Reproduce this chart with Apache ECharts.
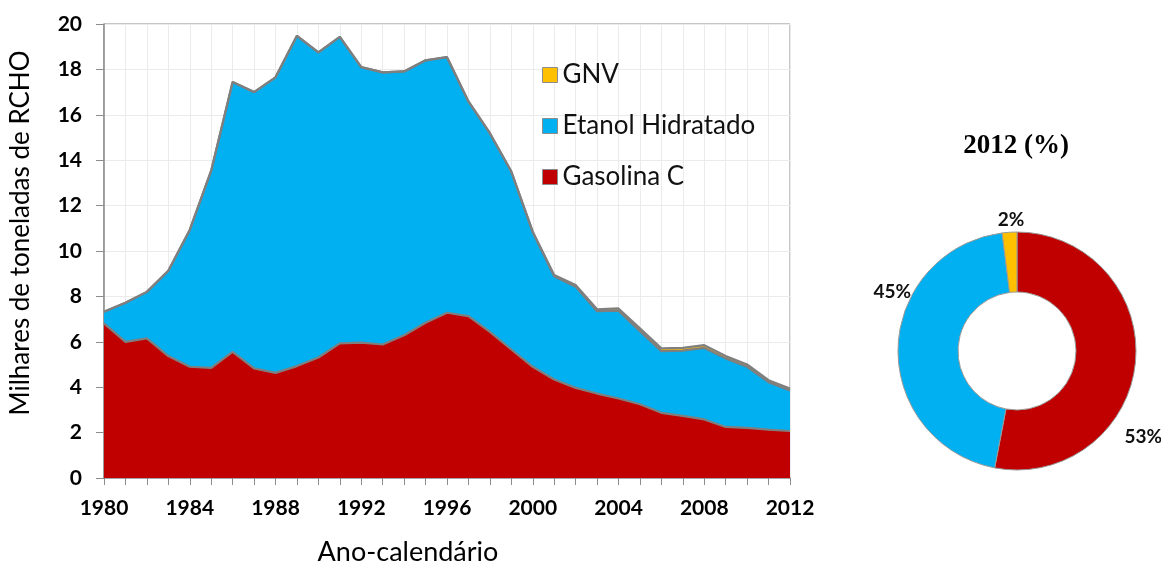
<!DOCTYPE html>
<html>
<head>
<meta charset="utf-8">
<script src="https://cdn.jsdelivr.net/npm/echarts@6/dist/echarts.min.js"></script>
<style>
  html, body { margin: 0; padding: 0; background: #fff; }
  #chart { width: 1161px; height: 564px; }
</style>
</head>
<body>
<div id="chart"></div>
<script>
// Years on the horizontal axis
const years = [];
for (let y = 1980; y <= 2012; y++) years.push(String(y));

// Emissions by fuel, thousands of tonnes of RCHO
const gasolinaC = [6.81, 6.00, 6.15, 5.37, 4.90, 4.85, 5.56, 4.83, 4.63, 4.93, 5.31,
                   5.93, 5.96, 5.88, 6.29, 6.84, 7.28, 7.13, 6.44, 5.66, 4.90,
                   4.34, 3.97, 3.72, 3.50, 3.25, 2.87, 2.74, 2.58, 2.25, 2.21, 2.13, 2.07];
const etanolHidratado = [0.51, 1.72, 2.05, 3.76, 6.03, 8.69, 11.88, 12.17, 13.02, 14.55, 13.44,
                         13.50, 12.14, 11.99, 11.62, 11.56, 11.26, 9.46, 8.75, 7.84, 5.93,
                         4.55, 4.46, 3.63, 3.87, 3.22, 2.72, 2.87, 3.15, 3.02, 2.69, 2.09, 1.79];
const gnv = [0, 0, 0, 0, 0, 0, 0, 0, 0, 0, 0,
             0, 0, 0, 0, 0, 0, 0, 0, 0, 0.02,
             0.05, 0.07, 0.08, 0.10, 0.12, 0.12, 0.12, 0.12, 0.10, 0.10, 0.09, 0.08];

// 2012 share by fuel (%)
const shareNames = ['Gasolina C', 'Etanol Hidratado', 'GNV'];
const share2012 = [53, 45, 2];

const colors = { 'Gasolina C': '#C00000', 'Etanol Hidratado': '#00B0F0', 'GNV': '#FFC000' };
const edge = '#7f7f7f';
const uiFont = 'Lato, "Open Sans", sans-serif';

// nudges for the donut percentage labels
const pieLabelShift = [[-20, 74], [22, -55], [20, -8]];

const chart = echarts.init(document.getElementById('chart'), null, { renderer: 'canvas' });

function areaSeries(name, data) {
  return {
    name: name,
    type: 'line',
    stack: 'total',
    data: data,
    symbol: 'none',
    smooth: false,
    lineStyle: { color: edge, width: 2.2 },
    itemStyle: { color: colors[name], borderColor: edge, borderWidth: 1 },
    areaStyle: { color: colors[name], opacity: 1 },
    emphasis: { disabled: true }
  };
}

chart.setOption({
  animation: false,
  backgroundColor: '#fff',
  grid: {
    left: 104, right: 371, top: 24, bottom: 86,
    outerBoundsMode: 'none',
    containLabel: false,
    show: true, borderColor: '#8c8c8c', borderWidth: 1
  },
  legend: {
    orient: 'vertical',
    left: 537, top: 57,
    itemGap: 25,
    itemWidth: 15, itemHeight: 15,
    icon: 'rect',
    data: ['GNV', 'Etanol Hidratado', 'Gasolina C'],
    textStyle: { fontFamily: uiFont, fontSize: 26, color: '#111', padding: [0, 0, 0, 0] },
    itemStyle: { borderColor: '#8c8c8c', borderWidth: 1 }
  },
  title: {
    text: '2012 (%)',
    left: 1011, top: 128,
    textAlign: 'center',
    textStyle: { fontFamily: '"Liberation Serif", "Times New Roman", serif', fontWeight: 'bold', fontSize: 27, color: '#000' }
  },
  xAxis: {
    type: 'category',
    data: years,
    boundaryGap: false,
    name: 'Ano-calendário',
    nameLocation: 'middle',
    nameGap: 61,
    nameTextStyle: { fontFamily: uiFont, fontSize: 27, color: '#000', padding: [0, 78, 0, 0] },
    axisLine: { lineStyle: { color: '#8c8c8c', width: 1.5 } },
    axisTick: { show: true, interval: 0, length: 7, lineStyle: { color: '#8c8c8c' } },
    axisLabel: { interval: 3, margin: 20, fontFamily: uiFont, fontWeight: 'bold', fontSize: 21, color: '#000' },
    splitLine: { show: true, interval: 0, lineStyle: { color: '#ebebeb', width: 1 } }
  },
  yAxis: {
    type: 'value',
    min: 0, max: 20, interval: 2,
    name: 'Milhares de toneladas de RCHO',
    nameLocation: 'middle',
    nameGap: 70,
    nameTextStyle: { fontFamily: uiFont, fontSize: 26, color: '#000', padding: [0, 0, 0, 36] },
    axisLine: { show: true, lineStyle: { color: '#8c8c8c', width: 1.5 } },
    axisTick: { show: true, length: 8, lineStyle: { color: '#8c8c8c' } },
    axisLabel: { margin: 22, fontFamily: uiFont, fontWeight: 'bold', fontSize: 21, color: '#000' },
    splitLine: { show: true, lineStyle: { color: '#ebebeb', width: 1 } }
  },
  series: [
    areaSeries('Gasolina C', gasolinaC),
    areaSeries('Etanol Hidratado', etanolHidratado),
    areaSeries('GNV', gnv),
    {
      name: '2012',
      type: 'pie',
      center: [1017, 351],
      radius: [59, 119],
      startAngle: 90,
      clockwise: true,
      avoidLabelOverlap: false,
      data: shareNames.map((n, i) => ({ name: n, value: share2012[i], itemStyle: { color: colors[n] } })),
      itemStyle: { borderColor: '#9a9a9a', borderWidth: 1 },
      label: {
        show: true,
        position: 'outside',
        formatter: '{c}%',
        fontFamily: uiFont, fontWeight: 'bold', fontSize: 19, color: '#111'
      },
      labelLine: { show: false, length: 4, length2: 0 },
      labelLayout: function (p) {
        const s = pieLabelShift[p.dataIndex] || [0, 0];
        return { dx: s[0], dy: s[1] };
      },
      emphasis: { disabled: true }
    }
  ]
});
</script>
</body>
</html>
